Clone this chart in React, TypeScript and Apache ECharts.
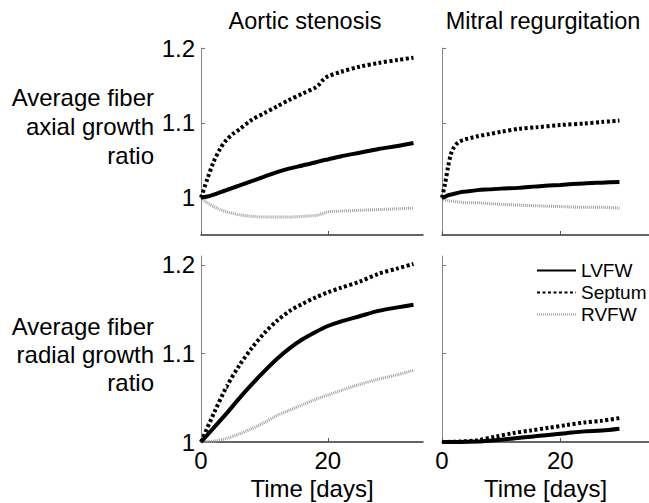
import React, { useEffect, useRef } from "react";
import * as echarts from "echarts";

const seriesNames = ["LVFW", "Septum", "RVFW"];
const panelTitles = ["Aortic stenosis", "Mitral regurgitation"];
const rowLabels = ["Average fiber\naxial growth\nratio", "Average fiber\nradial growth\nratio"];
const xTicks = [0, 20];
const yTicks = [1, 1.1, 1.2];
const xName = "Time [days]";

// Aortic stenosis, axial
const asAxialDays = [0, 1, 2, 3, 4, 5, 6, 8, 10, 12, 14, 16, 18, 18.6, 19.3, 20, 22, 25, 28, 31, 33.5];
const asAxialLVFW = [1.0, 1.0015, 1.004, 1.007, 1.01, 1.013, 1.016, 1.022, 1.028, 1.034, 1.039, 1.043, 1.047, 1.0485, 1.05, 1.051, 1.055, 1.06, 1.065, 1.069, 1.073];
const asAxialSeptum = [1.0, 1.025, 1.048, 1.065, 1.077, 1.085, 1.091, 1.104, 1.113, 1.122, 1.131, 1.139, 1.147, 1.151, 1.158, 1.162, 1.168, 1.175, 1.18, 1.184, 1.187];
const asAxialRVFW = [1.0, 0.993, 0.988, 0.984, 0.981, 0.979, 0.977, 0.975, 0.974, 0.974, 0.974, 0.975, 0.976, 0.977, 0.979, 0.981, 0.982, 0.983, 0.984, 0.985, 0.986];

// Mitral regurgitation, axial
const mrAxialDays = [0, 0.5, 1, 1.5, 2, 2.5, 3, 4, 5, 6, 8, 10, 13, 16, 20, 24, 27, 30];
const mrAxialLVFW = [1.0, 1.001, 1.003, 1.004, 1.005, 1.006, 1.007, 1.008, 1.009, 1.01, 1.011, 1.012, 1.013, 1.015, 1.017, 1.019, 1.02, 1.021];
const mrAxialSeptum = [1.0, 1.018, 1.04, 1.058, 1.067, 1.072, 1.075, 1.078, 1.08, 1.082, 1.085, 1.088, 1.092, 1.094, 1.097, 1.099, 1.101, 1.103];
const mrAxialRVFW = [1.0, 0.997, 0.996, 0.995, 0.995, 0.994, 0.994, 0.993, 0.993, 0.993, 0.992, 0.991, 0.99, 0.989, 0.988, 0.987, 0.987, 0.986];

// Aortic stenosis, radial
const asRadialDays = [0, 2, 4, 6, 8, 10, 12, 14, 16, 18, 20, 22, 25, 28, 31, 33.5];
const asRadialLVFW = [1.0, 1.016, 1.032, 1.049, 1.065, 1.08, 1.094, 1.106, 1.116, 1.124, 1.131, 1.136, 1.142, 1.148, 1.152, 1.155];
const asRadialSeptum = [1.0, 1.032, 1.062, 1.086, 1.106, 1.123, 1.137, 1.148, 1.156, 1.163, 1.169, 1.174, 1.181, 1.19, 1.196, 1.201];
const asRadialRVFW = [1.0, 1.001, 1.004, 1.009, 1.015, 1.022, 1.03, 1.036, 1.042, 1.048, 1.053, 1.058, 1.065, 1.071, 1.076, 1.081];

// Mitral regurgitation, radial
const mrRadialDays = [0, 3, 6, 9, 12, 15, 18, 21, 24, 27, 30];
const mrRadialLVFW = [1.0, 1.0, 1.0005, 1.002, 1.004, 1.006, 1.008, 1.01, 1.012, 1.013, 1.015];
const mrRadialSeptum = [1.0, 1.0005, 1.002, 1.006, 1.01, 1.013, 1.016, 1.019, 1.022, 1.024, 1.027];
const mrRadialRVFW = [1.0, 1.0, 1.0003, 1.0015, 1.0035, 1.0055, 1.0075, 1.0095, 1.0115, 1.0125, 1.0145];

const FONT = "Liberation Sans, Arial, Helvetica, sans-serif";

function pairs(days: number[], vals: number[]) {
  return days.map((d, i) => [d, vals[i]]);
}

const lineStyles: Record<string, any> = {
  LVFW: { color: "#000", width: 4, type: "solid" },
  Septum: { color: "#000", width: 4, type: [3, 2.5] },
  RVFW: { color: "#a0a0a0", width: 3, type: [1, 1] },
};

export default function App() {
  const ref = useRef<HTMLDivElement>(null);
  useEffect(() => {
    if (!ref.current) return;
    const chart = echarts.init(ref.current, null, { renderer: "svg" });

    const grids = [
      { left: 201, top: 48, width: 222, height: 187 },
      { left: 442, top: 48, width: 222, height: 187 },
      { left: 201, top: 256, width: 222, height: 186 },
      { left: 442, top: 256, width: 222, height: 186 },
    ];
    const yRanges = [
      [0.95, 1.2],
      [0.95, 1.2],
      [1, 1.21],
      [1, 1.21],
    ];
    const panels = [
      [asAxialDays, asAxialLVFW, asAxialSeptum, asAxialRVFW],
      [mrAxialDays, mrAxialLVFW, mrAxialSeptum, mrAxialRVFW],
      [asRadialDays, asRadialLVFW, asRadialSeptum, asRadialRVFW],
      [mrRadialDays, mrRadialLVFW, mrRadialSeptum, mrRadialRVFW],
    ];

    const xAxis = grids.map((_, i) => ({
      type: "value",
      gridIndex: i,
      min: 0,
      max: 35,
      name: i >= 2 ? xName : "",
      nameLocation: "middle",
      nameGap: 34,
      nameTextStyle: { fontSize: 24, color: "#000", fontFamily: FONT },
      splitLine: { show: false },
      axisLine: { show: true, lineStyle: { color: "#333", width: 1.5 } },
      axisTick: { show: true, inside: true, length: 4, customValues: xTicks, lineStyle: { color: "#555" } },
      axisLabel: {
        show: i >= 2,
        customValues: xTicks,
        fontSize: 24,
        color: "#000",
        fontFamily: FONT,
        margin: 6,
      },
    }));

    const yAxis = grids.map((_, i) => ({
      type: "value",
      gridIndex: i,
      min: yRanges[i][0],
      max: yRanges[i][1],
      splitLine: { show: false },
      axisLine: { show: true, lineStyle: { color: "#888", width: 1 } },
      axisTick: { show: true, inside: true, length: 4, customValues: yTicks, lineStyle: { color: "#777" } },
      axisLabel: {
        show: i % 2 === 0,
        customValues: yTicks,
        fontSize: 24,
        color: "#000",
        fontFamily: FONT,
        margin: 6,
        formatter: (v: number) => String(Math.round(v * 10) / 10),
      },
    }));

    const series: any[] = [];
    panels.forEach((p, gi) => {
      const [days, lv, sp, rv] = p as number[][];
      const vals: Record<string, number[]> = { LVFW: lv, Septum: sp, RVFW: rv };
      ["RVFW", "Septum", "LVFW"].forEach((name) => {
        series.push({
          type: "line",
          name,
          xAxisIndex: gi,
          yAxisIndex: gi,
          data: pairs(days, vals[name]),
          symbol: "none",
          smooth: 0.3,
          lineStyle: lineStyles[name],
          itemStyle: { color: lineStyles[name].color },
          z: name === "LVFW" ? 4 : name === "Septum" ? 3 : 2,
        });
      });
    });

    chart.setOption({
      animation: false,
      grid: grids,
      xAxis,
      yAxis,
      series,
      legend: {
        data: seriesNames,
        orient: "vertical",
        left: 531,
        top: 256,
        itemWidth: 39,
        itemHeight: 14,
        itemGap: 3,
        itemStyle: { opacity: 0 },
        textStyle: { fontSize: 19, color: "#000", fontFamily: FONT, padding: [0, 0, 0, 0] },
        selectedMode: false,
      },
      graphic: [
        {
          type: "text",
          x: 305,
          y: 21,
          style: { text: panelTitles[0], fontSize: 23.5, fontFamily: FONT, fill: "#000", align: "center", verticalAlign: "middle" },
        },
        {
          type: "text",
          x: 543,
          y: 21,
          style: { text: panelTitles[1], fontSize: 23.5, fontFamily: FONT, fill: "#000", align: "center", verticalAlign: "middle" },
        },
        {
          type: "text",
          x: 154,
          y: 126,
          style: {
            text: rowLabels[0],
            fontSize: 24,
            lineHeight: 29,
            fontFamily: FONT,
            fill: "#000",
            align: "right",
            verticalAlign: "middle",
          },
        },
        {
          type: "text",
          x: 154,
          y: 354,
          style: {
            text: rowLabels[1],
            fontSize: 24,
            lineHeight: 28,
            fontFamily: FONT,
            fill: "#000",
            align: "right",
            verticalAlign: "middle",
          },
        },
      ],
    });
    return () => chart.dispose();
  }, []);
  return (
    <div
      ref={ref}
      style={{ position: "fixed", left: 0, top: 0, width: 649, height: 503, background: "#fff" }}
    />
  );
}
